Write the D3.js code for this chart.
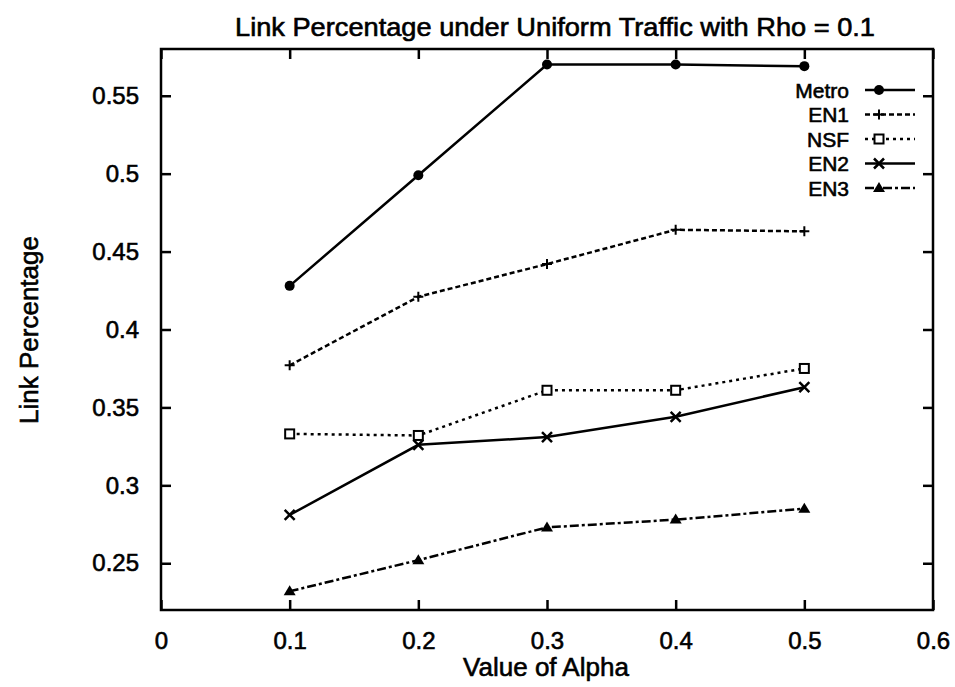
<!DOCTYPE html>
<html>
<head>
<meta charset="utf-8">
<script src="https://cdn.jsdelivr.net/npm/d3@7"></script>
<style>
  body { margin: 0; background: #fff; }
  text { font-family: "Liberation Sans", Arial, sans-serif; fill: #000; stroke: #000; stroke-width: 0.6px; }
</style>
</head>
<body>
<div id="chart"></div>
<script>
// values
const alphas = [0.1, 0.2, 0.3, 0.4, 0.5];
const metro = [0.428, 0.499, 0.570, 0.570, 0.569];
const en1 = [0.377, 0.421, 0.442, 0.464, 0.463];
const nsf = [0.333, 0.332, 0.361, 0.361, 0.375];
const en2 = [0.281, 0.326, 0.331, 0.344, 0.363];
const en3 = [0.232, 0.252, 0.273, 0.278, 0.285];
const seriesNames = ["Metro", "EN1", "NSF", "EN2", "EN3"];
const xTicks = [0, 0.1, 0.2, 0.3, 0.4, 0.5, 0.6];
const yTicks = [0.25, 0.3, 0.35, 0.4, 0.45, 0.5, 0.55];

let width = 955;
let height = 687;
let margin = { top: 49, right: 22, bottom: 77, left: 161 };

let svg = d3.select("#chart").append("svg")
  .attr("width", width)
  .attr("height", height);

let x = d3.scaleLinear().domain([0, 0.6]).range([margin.left, width - margin.right]);
let y = d3.scaleLinear().domain([0.22, 0.58]).range([height - margin.bottom, margin.top]);

// style for each series: dash, marker
let styles = {
  Metro: { dash: null, marker: "circle" },
  EN1: { dash: "5,3", marker: "plus" },
  NSF: { dash: "3,4", marker: "square" },
  EN2: { dash: null, marker: "cross" },
  EN3: { dash: "9,3,3,3", marker: "triangle" }
};
let values = [metro, en1, nsf, en2, en3];

// axes with inward ticks on all four sides
let tickLen = 10;
let fmt = d => d === 0 ? "0" : String(+d.toFixed(2));

svg.append("g")
  .attr("transform", `translate(0, ${y.range()[0]})`)
  .call(d3.axisBottom(x).tickValues(xTicks).tickSize(-tickLen).tickPadding(22).tickFormat(fmt))
  .call(g => g.select(".domain").remove());

svg.append("g")
  .attr("transform", `translate(0, ${y.range()[1]})`)
  .call(d3.axisTop(x).tickValues(xTicks).tickSize(-tickLen).tickFormat(""))
  .call(g => g.select(".domain").remove());

svg.append("g")
  .attr("transform", `translate(${x.range()[0]}, 0)`)
  .call(d3.axisLeft(y).tickValues(yTicks).tickSize(-tickLen).tickPadding(22).tickFormat(fmt))
  .call(g => g.select(".domain").remove());

svg.append("g")
  .attr("transform", `translate(${x.range()[1]}, 0)`)
  .call(d3.axisRight(y).tickValues(yTicks).tickSize(-tickLen).tickFormat(""))
  .call(g => g.select(".domain").remove());

svg.selectAll(".tick line").attr("stroke", "#000").attr("stroke-width", 2.5);
svg.selectAll(".tick text")
  .style("font-size", "24px")
  .style("font-family", "'Liberation Sans', Arial, sans-serif");

// frame
svg.append("rect")
  .attr("x", x.range()[0])
  .attr("y", y.range()[1])
  .attr("width", x.range()[1] - x.range()[0])
  .attr("height", y.range()[0] - y.range()[1])
  .attr("fill", "none")
  .attr("stroke", "#000")
  .attr("stroke-width", 2.5);

function drawMarker(g, type, cx, cy) {
  if (type === "circle") {
    g.append("circle").attr("cx", cx).attr("cy", cy).attr("r", 5).attr("fill", "#000");
  } else if (type === "plus") {
    g.append("path").attr("d", `M${cx - 5},${cy}H${cx + 5}M${cx},${cy - 5}V${cy + 5}`)
      .attr("stroke", "#000").attr("stroke-width", 2);
  } else if (type === "square") {
    g.append("rect").attr("x", cx - 4.5).attr("y", cy - 4.5).attr("width", 9).attr("height", 9)
      .attr("fill", "#fff").attr("stroke", "#000").attr("stroke-width", 2);
  } else if (type === "cross") {
    g.append("path").attr("d", `M${cx - 5},${cy - 5}L${cx + 5},${cy + 5}M${cx - 5},${cy + 5}L${cx + 5},${cy - 5}`)
      .attr("stroke", "#000").attr("stroke-width", 2.5);
  } else if (type === "triangle") {
    g.append("path").attr("d", `M${cx},${cy - 6}L${cx + 6},${cy + 4}L${cx - 6},${cy + 4}Z`)
      .attr("fill", "#000");
  }
}

let line = d3.line()
  .x(d => x(d[0]))
  .y(d => y(d[1]));

seriesNames.forEach(function(name, i) {
  let pts = alphas.map((a, j) => [a, values[i][j]]);
  let st = styles[name];
  let g = svg.append("g").attr("class", "series");
  g.append("path")
    .attr("d", line(pts))
    .attr("fill", "none")
    .attr("stroke", "#000")
    .attr("stroke-width", 2.5)
    .attr("stroke-dasharray", st.dash);
  pts.forEach(p => drawMarker(g, st.marker, x(p[0]), y(p[1])));
});

// legend
let legendY = [90, 114.5, 139, 163.5, 188];
seriesNames.forEach(function(name, i) {
  let st = styles[name];
  let g = svg.append("g");
  g.append("text")
    .attr("x", 849)
    .attr("y", legendY[i])
    .attr("dy", ".36em")
    .attr("text-anchor", "end")
    .style("font-size", "21px")
    .text(name);
  g.append("path")
    .attr("d", `M865,${legendY[i]}H915`)
    .attr("stroke", "#000")
    .attr("stroke-width", 2.5)
    .attr("stroke-dasharray", st.dash);
  drawMarker(g, st.marker, 879, legendY[i]);
});

// title and axis labels
svg.append("text")
  .attr("x", 555)
  .attr("y", 36)
  .attr("text-anchor", "middle")
  .attr("textLength", 640)
  .attr("lengthAdjust", "spacingAndGlyphs")
  .style("font-size", "25px")
  .text("Link Percentage under Uniform Traffic with Rho = 0.1");

svg.append("text")
  .attr("x", 546)
  .attr("y", 676)
  .attr("text-anchor", "middle")
  .style("font-size", "26px")
  .text("Value of Alpha");

svg.append("text")
  .attr("transform", "translate(38, 330) rotate(-90)")
  .attr("text-anchor", "middle")
  .style("font-size", "26px")
  .text("Link Percentage");
</script>
</body>
</html>
